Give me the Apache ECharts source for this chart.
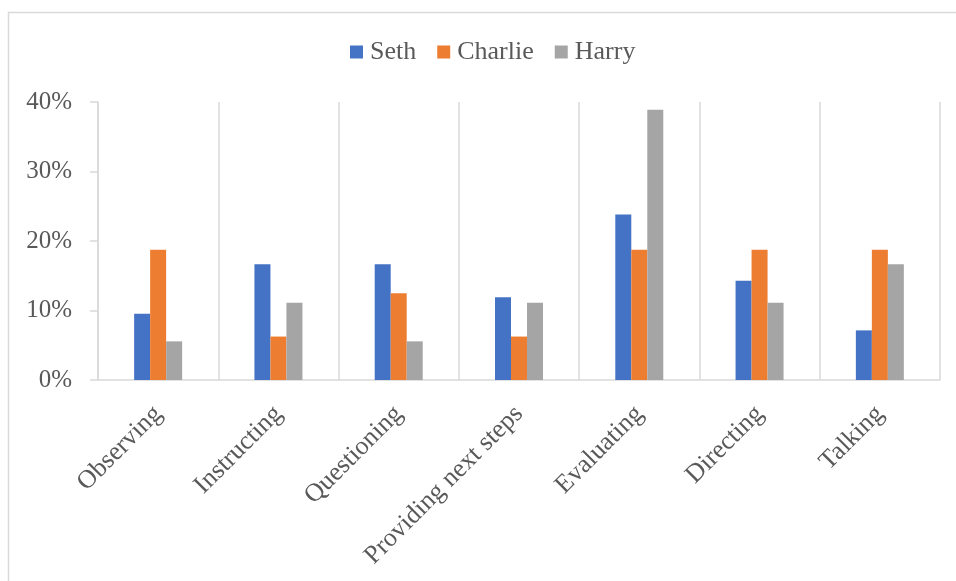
<!DOCTYPE html>
<html><head><meta charset="utf-8">
<script src="https://cdn.jsdelivr.net/npm/echarts@6/dist/echarts.min.js"></script>
<style>html,body{margin:0;padding:0;background:#fff}#c{width:956px;height:581px}</style>
</head><body><div id="c"></div>
<script>
const categories = ['Observing','Instructing','Questioning','Providing next steps','Evaluating','Directing','Talking'];
const seth = [9.52, 16.67, 16.67, 11.90, 23.81, 14.29, 7.14];
const charlie = [18.75, 6.25, 12.5, 6.25, 18.75, 18.75, 18.75];
const harry = [5.56, 11.11, 5.56, 11.11, 38.89, 11.11, 16.67];
const yTicks = [0, 10, 20, 30, 40];

const font = "'Liberation Serif','Times New Roman',serif";
const chart = echarts.init(document.getElementById('c'), null, {renderer:'canvas'});
chart.setOption({
  animation:false,
  backgroundColor:'#fff',
  textStyle:{fontFamily:font},
  graphic:[{type:'rect',shape:{x:8.5,y:12.5,width:1000,height:1000},style:{fill:'none',stroke:'#d9d9d9',lineWidth:1.5},silent:true}],
  legend:{
    top:34, left:345, itemWidth:13, itemHeight:13, itemGap:21,
    icon:'rect',
    textStyle:{fontFamily:font,fontSize:26,color:'#595959',padding:[0,0,0,2]},
    data:['Seth','Charlie','Harry']
  },
  grid:{left:98,right:16,top:102,bottom:201,containLabel:false},
  xAxis:{
    type:'category', data:categories,
    axisLine:{lineStyle:{color:'#d9d9d9',width:1.5}},
    axisTick:{show:false},
    splitLine:{show:true,lineStyle:{color:'#d9d9d9',width:1.5}},
    axisLabel:{rotate:45,margin:30,fontFamily:font,fontSize:26,color:'#595959',interval:0}
  },
  yAxis:{
    type:'value', min:yTicks[0], max:yTicks[yTicks.length-1], interval:10,
    axisLine:{show:true,lineStyle:{color:'#d9d9d9',width:1.5}},
    axisTick:{show:true,length:8,lineStyle:{color:'#d9d9d9',width:1.5}},
    splitLine:{show:false},
    axisLabel:{formatter:'{value}%',margin:26,fontFamily:font,fontSize:25,color:'#595959'}
  },
  series:[
    {name:'Seth',type:'bar',data:seth,barWidth:16,barGap:'0%',itemStyle:{color:'#4472c4'}},
    {name:'Charlie',type:'bar',data:charlie,barWidth:16,barGap:'0%',itemStyle:{color:'#ed7d31'}},
    {name:'Harry',type:'bar',data:harry,barWidth:16,barGap:'0%',itemStyle:{color:'#a5a5a5'}}
  ]
});
</script></body></html>
